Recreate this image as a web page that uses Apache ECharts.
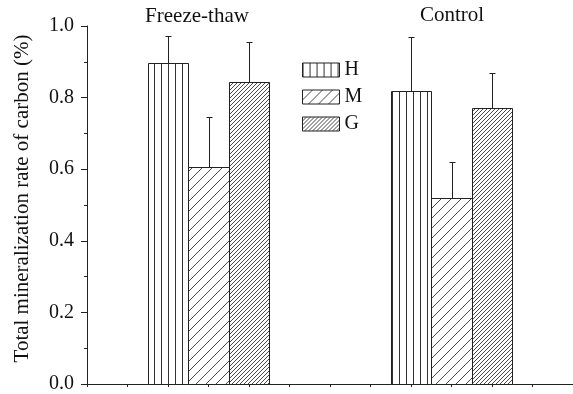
<!DOCTYPE html>
<html>
<head>
<meta charset="utf-8">
<script src="https://cdn.jsdelivr.net/npm/echarts@6/dist/echarts.min.js"></script>
<style>
html,body{margin:0;padding:0;background:#fff;}
#chart{width:573px;height:394px;}
</style>
</head>
<body>
<div id="chart"></div>
<script>
// ---- data ----
const groups = ['Freeze-thaw', 'Control'];
const seriesNames = ['H', 'M', 'G'];
const H = [0.898, 0.818];
const M = [0.606, 0.520];
const G = [0.843, 0.770];
const errH = [0.074, 0.150];
const errM = [0.139, 0.100];
const errG = [0.112, 0.100];
const yTickLabels = ['0.0', '0.2', '0.4', '0.6', '0.8', '1.0'];
const yTitle = 'Total mineralization rate of carbon (%)';

// ---- patterns ----
function vPattern(p, color) {
  const c = document.createElement('canvas');
  c.width = p; c.height = p;
  const ctx = c.getContext('2d');
  ctx.fillStyle = '#fff'; ctx.fillRect(0, 0, p, p);
  ctx.strokeStyle = color; ctx.lineWidth = 1;
  ctx.beginPath(); ctx.moveTo(0.5, 0); ctx.lineTo(0.5, p); ctx.stroke();
  return { image: c, repeat: 'repeat' };
}
function dPattern(p, color, lw) {
  const c = document.createElement('canvas');
  c.width = p; c.height = p;
  const ctx = c.getContext('2d');
  ctx.fillStyle = '#fff'; ctx.fillRect(0, 0, p, p);
  ctx.strokeStyle = color; ctx.lineWidth = lw;
  ctx.beginPath();
  ctx.moveTo(0, p); ctx.lineTo(p, 0);
  ctx.moveTo(-1, 1); ctx.lineTo(1, -1);
  ctx.moveTo(p - 1, p + 1); ctx.lineTo(p + 1, p - 1);
  ctx.stroke();
  return { image: c, repeat: 'repeat' };
}
const patterns = [vPattern(7, '#333'), dPattern(10, '#333', 0.9), dPattern(4, '#333', 0.9)];

const values = [H, M, G];
const errs = [errH, errM, errG];
const FONT = '"Liberation Serif", "Times New Roman", serif';

function makeSeries(si) {
  const data = groups.map((g, gi) => [3 + 6 * gi + (si - 1), values[si][gi], errs[si][gi]]);
  return {
    type: 'custom',
    name: seriesNames[si],
    clip: false,
    itemStyle: { color: patterns[si] },
    data: data,
    renderItem: function (params, api) {
      const xc = api.value(0), v = api.value(1), e = api.value(2);
      const p0 = api.coord([xc - 0.5, 0]);
      const p1 = api.coord([xc + 0.5, v]);
      const pe = api.coord([xc, v + e]);
      const left = Math.round(p0[0]) + 0.5;
      const right = Math.round(p1[0]) + 0.5;
      const top = Math.round(p1[1]) + 0.5;
      const bottom = Math.round(p0[1]) + 0.5;
      const cx = Math.round((p0[0] + p1[0]) / 2) + 0.5;
      const et = Math.round(pe[1]) + 0.5;
      return {
        type: 'group',
        children: [
          { type: 'rect', shape: { x: left, y: top, width: right - left, height: bottom - top },
            style: { fill: patterns[si], stroke: '#222', lineWidth: 1 } },
          { type: 'line', shape: { x1: cx, y1: top, x2: cx, y2: et },
            style: { stroke: '#222', lineWidth: 1 } },
          { type: 'line', shape: { x1: cx - 3, y1: et, x2: cx + 3, y2: et },
            style: { stroke: '#222', lineWidth: 1 } }
        ]
      };
    }
  };
}

const chart = echarts.init(document.getElementById('chart'), null, { renderer: 'canvas' });
chart.setOption({
  animation: false,
  backgroundColor: '#fff',
  grid: { left: 87, top: 26, width: 488, height: 360 },
  xAxis: {
    type: 'value', min: 0, max: 12, interval: 1,
    axisLine: { show: true, lineStyle: { color: '#222', width: 1 } },
    axisTick: { show: true, inside: false, length: 3, lineStyle: { color: '#222' } },
    axisLabel: { show: false },
    splitLine: { show: false }
  },
  yAxis: {
    type: 'value', min: 0, max: 1, interval: 0.2,
    axisLine: { show: true, lineStyle: { color: '#222', width: 1 } },
    axisTick: { show: true, inside: false, length: 6, lineStyle: { color: '#222' } },
    minorTick: { show: true, splitNumber: 2, length: 3, lineStyle: { color: '#222' } },
    axisLabel: {
      margin: 13, fontFamily: FONT, fontSize: 20, color: '#111',
      formatter: function (v) { return yTickLabels[Math.round(v / 0.2)]; }
    },
    splitLine: { show: false }
  },
  legend: {
    orient: 'vertical', left: 302, top: 60, padding: 0,
    itemWidth: 37, itemHeight: 14, itemGap: 7, itemTextGap: 3,
    textStyle: { fontFamily: FONT, fontSize: 20, color: '#111', lineHeight: 16 },
    data: seriesNames.map((n, i) => ({
      name: n, icon: 'rect',
      itemStyle: { color: patterns[i], borderColor: '#222', borderWidth: 1 }
    }))
  },
  graphic: [
    { type: 'text', x: 197, y: 16,
      style: { text: groups[0], font: '21px ' + FONT, fill: '#111', align: 'center', verticalAlign: 'middle' } },
    { type: 'text', x: 452, y: 15,
      style: { text: groups[1], font: '21px ' + FONT, fill: '#111', align: 'center', verticalAlign: 'middle' } },
    { type: 'text', x: 22, y: 198.5, rotation: Math.PI / 2,
      style: { text: yTitle, font: '21px ' + FONT, fill: '#111', align: 'center', verticalAlign: 'middle' } }
  ],
  series: [0, 1, 2].map(makeSeries)
});
</script>
</body>
</html>
